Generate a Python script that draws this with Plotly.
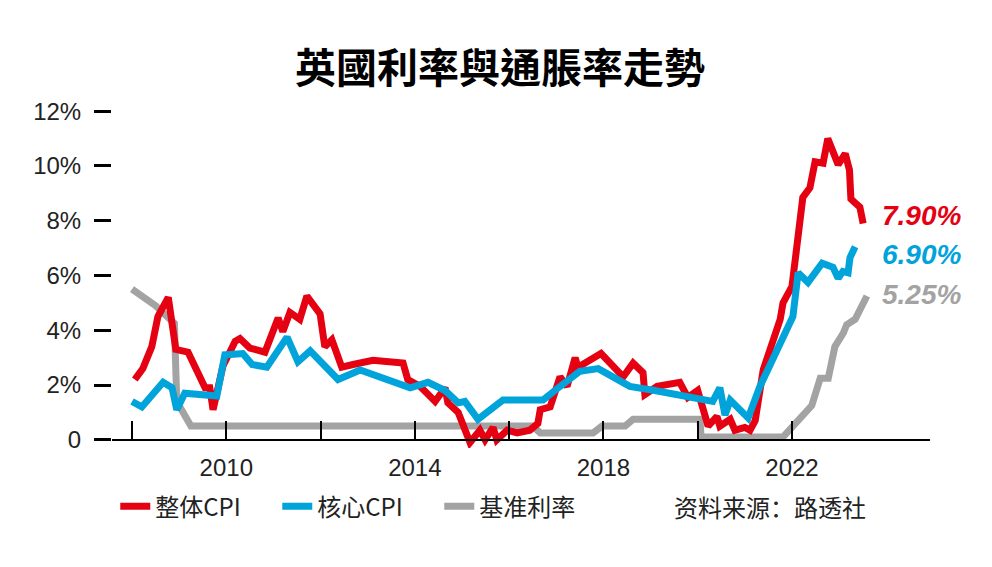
import plotly.graph_objects as go

# UK headline CPI, core CPI and Bank Rate (%)
cpi_year = [2008.06, 2008.23, 2008.42, 2008.55, 2008.77, 2008.93, 2009.19, 2009.55, 2009.65,
            2009.72, 2009.93, 2010.19, 2010.29, 2010.5, 2010.82, 2011.1, 2011.2, 2011.35,
            2011.56, 2011.71, 2011.99, 2012.09, 2012.24, 2012.45, 2012.69, 2013.11, 2013.75,
            2013.85, 2014.11, 2014.43, 2014.64, 2014.7, 2014.92, 2015.17, 2015.38, 2015.49,
            2015.66, 2015.74, 2015.96, 2016.17, 2016.44, 2016.61, 2016.66, 2016.87, 2017.08,
            2017.23, 2017.4, 2017.46, 2017.95, 2018.42, 2018.63, 2018.84, 2018.88, 2019.14,
            2019.62, 2019.79, 2020.0, 2020.22, 2020.41, 2020.47, 2020.69, 2020.79, 2021.0,
            2021.11, 2021.22, 2021.39, 2021.75, 2021.81, 2022.0, 2022.23, 2022.38, 2022.49,
            2022.66, 2022.76, 2022.98, 2023.13, 2023.22, 2023.25, 2023.34, 2023.44, 2023.51]
cpi = [2.2, 2.6, 3.4, 4.5, 5.2, 3.3, 3.2, 1.9, 1.9,
       1.1, 2.7, 3.6, 3.7, 3.35, 3.2, 4.45, 3.95, 4.65,
       4.4, 5.25, 4.6, 3.4, 3.65, 2.65, 2.75, 2.9, 2.8,
       2.2, 1.95, 1.4, 1.9, 1.35, 1.0, -0.1, 0.35, 0.0,
       0.45, 0.0, 0.35, 0.25, 0.35, 0.6, 1.1, 1.2, 2.3,
       1.95, 3.0, 2.65, 3.15, 2.3, 2.8, 2.45, 1.65, 1.95,
       2.1, 1.55, 1.8, 0.5, 0.85, 0.5, 0.75, 0.35, 0.45,
       0.35, 0.7, 2.55, 4.4, 5.0, 5.6, 8.85, 9.2, 10.15,
       10.1, 11.0, 10.05, 10.45, 9.85, 8.8, 8.65, 8.5, 7.9]

core_year = [2008.0, 2008.21, 2008.66, 2008.85, 2008.95, 2009.12, 2009.8, 2009.97, 2010.35,
             2010.55, 2010.86, 2011.29, 2011.52, 2011.78, 2012.37, 2012.84, 2013.9, 2014.28,
             2014.64, 2014.92, 2015.06, 2015.34, 2015.87, 2016.72, 2017.08, 2017.5, 2017.89,
             2018.14, 2018.56, 2019.09, 2020.32, 2020.47, 2020.58, 2020.69, 2021.07, 2021.32,
             2022.02, 2022.13, 2022.34, 2022.64, 2022.87, 2022.98, 2023.08, 2023.19, 2023.23,
             2023.34]
core = [1.4, 1.2, 2.1, 1.9, 1.1, 1.7, 1.6, 3.1, 3.15,
        2.75, 2.65, 3.75, 2.85, 3.25, 2.2, 2.55, 1.9, 2.1,
        1.8, 1.35, 1.4, 0.75, 1.45, 1.45, 1.95, 2.5, 2.6,
        2.35, 1.95, 1.8, 1.4, 1.9, 0.9, 1.45, 0.8, 1.95,
        4.5, 6.1, 5.75, 6.45, 6.3, 5.9, 6.15, 6.1, 6.65,
        7.05]

rate_year = [2008.0, 2008.5, 2008.9, 2008.95, 2009.25, 2016.5, 2016.66, 2017.78, 2017.97,
             2018.46, 2018.63, 2020.05, 2020.07, 2021.81, 2022.42, 2022.6, 2022.77, 2022.91,
             2023.09, 2023.16, 2023.34, 2023.59]
rate = [5.5, 4.9, 4.25, 1.4, 0.5, 0.5, 0.25, 0.25, 0.5,
        0.5, 0.75, 0.75, 0.1, 0.1, 1.25, 2.25, 2.25, 3.4,
        3.9, 4.2, 4.4, 5.25]

series_names = ['整体CPI', '核心CPI', '基准利率']
end_labels = ['7.90%', '6.90%', '5.25%']
label_y = [8.2, 6.75, 5.3]

tick_years = [2008, 2010, 2012, 2014, 2016, 2018, 2020, 2022]
tick_year_text = ['', '2010', '', '2014', '', '2018', '', '2022']
y_ticks = [0, 2, 4, 6, 8, 10, 12]
y_tick_text = ['0', '2%', '4%', '6%', '8%', '10%', '12%']

source_text = '资料来源：路透社'
title_text = '英國利率與通脹率走勢'

RED = '#E50012'
BLUE = '#00A3DA'
GREY = '#A3A3A3'

# page body keeps an 8px margin, so the figure is 8px smaller and margins shrink to suit
W, H, PAGE_PAD = 992, 567, 8

fig = go.Figure()
# draw order: grey under red under blue, legend order fixed by rank
fig.add_trace(go.Scatter(x=rate_year, y=rate, mode='lines', name=series_names[2],
                         line=dict(color=GREY, width=7), legendrank=3))
fig.add_trace(go.Scatter(x=cpi_year, y=cpi, mode='lines', name=series_names[0],
                         line=dict(color=RED, width=7), legendrank=1))
fig.add_trace(go.Scatter(x=core_year, y=core, mode='lines', name=series_names[1],
                         line=dict(color=BLUE, width=7), legendrank=2))

for txt, yy, col in zip(end_labels, label_y, [RED, BLUE, GREY]):
    fig.add_annotation(x=2023.87, y=yy, xref='x', yref='y', text=txt, showarrow=False,
                       xanchor='left', yanchor='middle',
                       font=dict(family='Liberation Sans, Arial', size=28, color=col,
                                 weight='bold', style='italic'))

fig.add_annotation(x=0.6846, y=-0.170, xref='paper', yref='paper', text=source_text,
                   showarrow=False, xanchor='left', yanchor='middle',
                   font=dict(family='Noto Sans CJK SC', size=24, color='#222'))

y_lo, y_hi = -0.3, 12.3

fig.update_layout(
    width=W - PAGE_PAD, height=H - PAGE_PAD,
    margin=dict(l=112 - PAGE_PAD, r=62, t=103 - PAGE_PAD, b=119),
    paper_bgcolor='white', plot_bgcolor='white',
    font=dict(family='Liberation Sans, Arial', size=24, color='#222'),
    title=dict(text=title_text, x=0.5, xanchor='center',
               y=1 - (69 - PAGE_PAD) / (H - PAGE_PAD), yref='container', yanchor='middle',
               font=dict(family='Noto Sans CJK TC', size=41, color='black', weight='bold')),
    showlegend=True,
    legend=dict(orientation='h', x=0.004, y=-0.170, xanchor='left', yanchor='middle',
                entrywidth=117, entrywidthmode='pixels', itemwidth=30,
                font=dict(family='Noto Sans CJK SC', size=24, color='#222'),
                bgcolor='rgba(0,0,0,0)'),
)

fig.update_xaxes(range=[2007.576, 2024.928], showgrid=False, zeroline=False,
                 showline=True, linecolor='black', linewidth=2,
                 anchor='free', position=(0 - y_lo) / (y_hi - y_lo),
                 ticks='inside', ticklen=18, tickwidth=2, tickcolor='black',
                 tickvals=tick_years, ticktext=tick_year_text, ticklabelstandoff=6)
fig.update_yaxes(range=[y_lo, y_hi], showgrid=False, zeroline=False, showline=False,
                 ticks='outside', ticklen=17, tickwidth=3, tickcolor='black',
                 tickvals=y_ticks, ticktext=y_tick_text, ticklabelstandoff=8)

fig.write_html('out.html')
